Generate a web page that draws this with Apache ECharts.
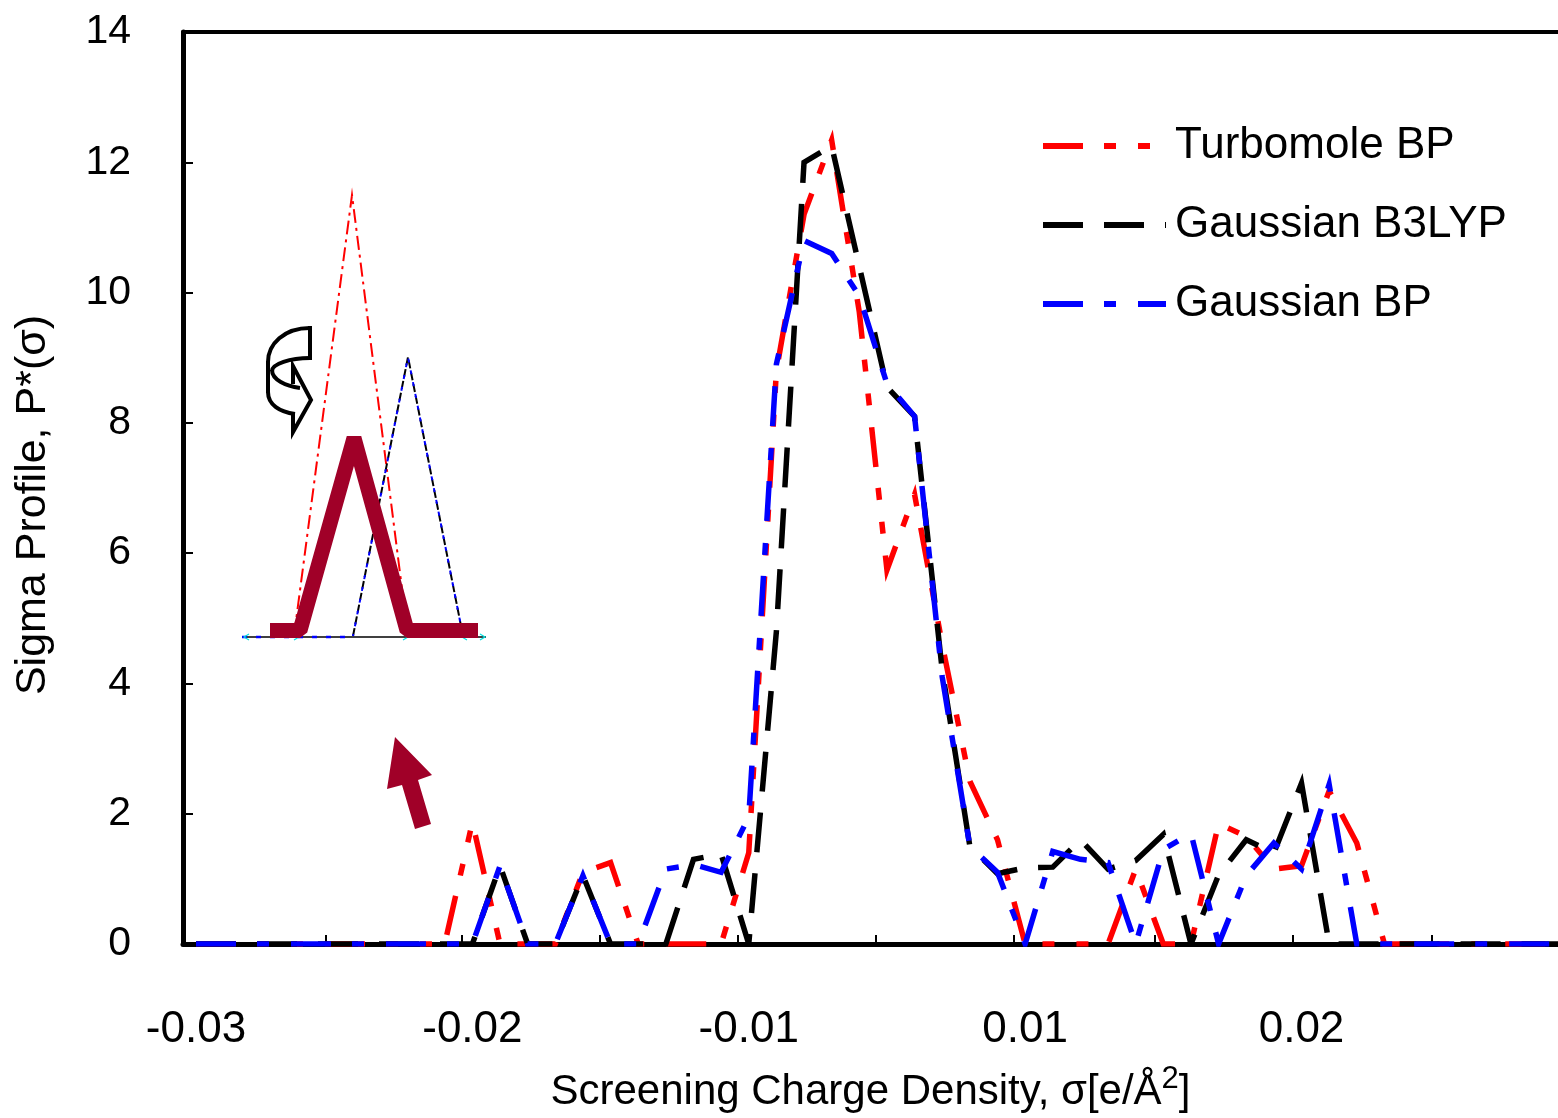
<!DOCTYPE html>
<html>
<head>
<meta charset="utf-8">
<script src="https://cdn.jsdelivr.net/npm/echarts@6/dist/echarts.min.js"></script>
<style>
html,body{margin:0;padding:0;background:#ffffff;}
#chart{width:1558px;height:1118px;}
</style>
</head>
<body>
<div id="chart"></div>
<script>
// ---- data ----
const sigma = [-0.025,-0.024,-0.023,-0.022,-0.021,-0.020,-0.019,-0.018,-0.017,-0.016,
  -0.015,-0.014,-0.013,-0.012,-0.011,-0.010,-0.009,-0.008,-0.007,-0.006,
  -0.005,-0.004,-0.003,-0.002,-0.001,0.000,0.001,0.002,0.003,0.004,
  0.005,0.006,0.007,0.008,0.009,0.010,0.011,0.012,0.013,0.014,
  0.015,0.016,0.017,0.018,0.019,0.020,0.021,0.022,0.023,0.024,0.025];

const turbomoleBP = [0,0,0,0,0,0,0,0,0,0,
  1.87,0,0,0,1.1,1.25,0,0,0,0,
  1.4,8.8,11.2,12.34,9.7,5.74,6.9,4.6,2.5,1.6,
  0,0,0,0,1.15,0,0,1.85,1.65,1.15,
  1.2,2.35,1.55,0,0,0,0,0,0,0,0];

const gaussianB3LYP = [0,0,0,0,0,0,0,0,0,0,
  0,1.2,0,0,1.05,0,0,0,1.3,1.38,
  0,4.8,12.0,12.25,10.4,8.55,8.1,4.2,1.5,1.08,
  1.17,1.18,1.6,1.15,1.28,1.68,0,1.06,1.6,1.4,
  2.47,0,0,0,0,0,0,0,0,0,0];

const gaussianBP = [0,0,0,0,0,0,0,0,0,0,
  0,1.2,0,0,1.05,0,0,1.15,1.22,1.1,
  1.95,8.9,10.8,10.6,9.95,8.6,8.1,4.1,1.5,1.1,
  0,1.42,1.3,1.25,0,1.45,1.7,0,1.05,1.55,
  1.15,2.45,0,0,0,0,0,0,0,0,0];

const seriesNames = ['Turbomole BP','Gaussian B3LYP','Gaussian BP'];

// axis tick labels as printed on the reference
const xLabelValues = [-0.025,-0.015,-0.005,0.005,0.015];
const xLabelTexts = ['-0.03','-0.02','-0.01','0.01','0.02'];
const xTickValues = [-0.0203,-0.0154,-0.0104,-0.0054,-0.0004,0.0046,0.0097,0.0147,0.0197];

// ---- styles ----
const FONT = 'Liberation Sans, Arial, Helvetica, sans-serif';
const colors = ['#ff0000','#000000','#0000ff'];
const dashes = [[40,21,12,22,12,22],[40,21],[40,21,12,22]];
const DARKRED = '#a00028';

function pairs(ys){ return sigma.map((s,i)=>[s, ys[i]]); }
const allValues = [turbomoleBP, gaussianB3LYP, gaussianBP];

const series = allValues.map((vals,i)=>({
  name: seriesNames[i],
  type: 'line',
  xAxisIndex: 0,
  yAxisIndex: 0,
  data: pairs(vals),
  symbol: 'none',
  clip: true,
  lineStyle: {color: colors[i], width: 5.5, type: dashes[i], cap: 'butt', join: 'miter'},
  itemStyle: {color: colors[i]},
  z: 3 + i
}));

const chart = echarts.init(document.getElementById('chart'), null, {renderer: 'canvas'});

const graphicEls = [
  // thin red dash-dot triangle
  {type:'polyline', z:50, shape:{points:[[294,636],[352,195],[408,636]]},
   style:{stroke:'#ff0000', lineWidth:2, fill:null, lineDash:[14,5,3,5]}},
  // thin black / blue dashed triangle
  {type:'polyline', z:50, shape:{points:[[353,636],[408,357],[463,636]]},
   style:{stroke:'#000000', lineWidth:2, fill:null, lineDash:[8,4]}},
  {type:'polyline', z:51, shape:{points:[[353,636],[408,357],[463,636]]},
   style:{stroke:'#0000ff', lineWidth:2, fill:null, lineDash:[4,8], lineDashOffset:2}},
  // inset baseline
  {type:'line', z:50, shape:{x1:242,y1:637,x2:486,y2:637}, style:{stroke:'#000', lineWidth:1.5}},
  {type:'line', z:51, shape:{x1:242,y1:637,x2:350,y2:637}, style:{stroke:'#0000ff', lineWidth:2.5, lineDash:[5,9]}},
  {type:'polyline', z:52, shape:{points:[[249,634],[244,637],[249,640]]}, style:{stroke:'#00e0e0', lineWidth:1.2, fill:null}},
  {type:'polyline', z:52, shape:{points:[[294,634],[299,637],[294,640]]}, style:{stroke:'#00e0e0', lineWidth:1.2, fill:null}},
  {type:'polyline', z:52, shape:{points:[[403,634],[408,637],[403,640]]}, style:{stroke:'#00e0e0', lineWidth:1.2, fill:null}},
  {type:'polyline', z:52, shape:{points:[[467,634],[462,637],[467,640]]}, style:{stroke:'#00e0e0', lineWidth:1.2, fill:null}},
  {type:'polyline', z:52, shape:{points:[[480,634],[485,637],[480,640]]}, style:{stroke:'#00e0e0', lineWidth:1.2, fill:null}},
  // thick dark-red lambda
  {type:'polyline', z:60, shape:{points:[[270,630.5],[300,630.5],[354,438],[407,630.5],[478,630.5]]},
   style:{stroke:DARKRED, lineWidth:15, fill:null, lineJoin:'bevel'}},
  // curved arrow glyph
  {type:'bezierCurve', z:60, shape:{x1:310,y1:328,cpx1:284,cpy1:328,cpx2:268,cpy2:344,x2:268,y2:362}, style:{stroke:'#000', lineWidth:4, fill:null}},
  {type:'line', z:60, shape:{x1:268,y1:361,x2:268,y2:393}, style:{stroke:'#000', lineWidth:4}},
  {type:'bezierCurve', z:60, shape:{x1:268,y1:392,cpx1:268,cpy1:405,cpx2:280,cpy2:412,x2:295,y2:414}, style:{stroke:'#000', lineWidth:4, fill:null}},
  {type:'polyline', z:60, shape:{points:[[293,413],[293,432],[311,400],[293,366],[293,384]]}, style:{stroke:'#000', lineWidth:4, fill:null, lineJoin:'miter'}},
  {type:'bezierCurve', z:60, shape:{x1:310,y1:358,cpx1:290,cpy1:358,cpx2:272,cpy2:364,x2:272,y2:371}, style:{stroke:'#000', lineWidth:4, fill:null}},
  {type:'bezierCurve', z:60, shape:{x1:272,y1:370,cpx1:272,cpy1:380,cpx2:286,cpy2:386,x2:300,y2:388}, style:{stroke:'#000', lineWidth:4, fill:null}},
  {type:'line', z:60, shape:{x1:310,y1:326,x2:310,y2:360}, style:{stroke:'#000', lineWidth:4}},
  // dark-red block arrow
  {type:'polygon', z:60, shape:{points:[[395,737],[432,775],[418,780],[431,824],[415,829],[402,785],[387,789]]},
   style:{fill:DARKRED, stroke:null}}
];

const option = {
  animation: false,
  backgroundColor: '#ffffff',
  textStyle: {fontFamily: FONT},
  grid: {left: 183, right: 0, top: 32, bottom: 174, containLabel: false, outerBoundsMode: 'none'},
  legend: {
    data: seriesNames,
    orient: 'vertical',
    left: 1040,
    top: 124,
    padding: 0,
    itemWidth: 123,
    itemHeight: 20,
    itemGap: 35,
    selectedMode: false,
    itemStyle: {opacity: 0, color: 'rgba(0,0,0,0)', borderWidth: 0},
    lineStyle: {width: 6},
    textStyle: {fontFamily: FONT, fontSize: 44, color: '#000', padding: [0,0,0,4]}
  },
  xAxis: [
    {
      type: 'value',
      min: -0.02547,
      max: 0.02428,
      position: 'bottom',
      axisLine: {show: true, onZero: false, lineStyle: {color: '#000', width: 5}},
      axisTick: {show: true, inside: true, length: 9, customValues: xTickValues, lineStyle: {color: '#000', width: 2}},
      splitLine: {show: false},
      axisLabel: {
        show: true, customValues: xLabelValues, margin: 64,
        fontFamily: FONT, fontSize: 44, color: '#000',
        formatter: function(v){
          let best = 0, d = Infinity;
          xLabelValues.forEach((x,i)=>{ const dd = Math.abs(x - v); if (dd < d){ d = dd; best = i; } });
          return xLabelTexts[best];
        }
      },
      name: 'Screening Charge Density, σ[e/Å{sup|2}]',
      nameLocation: 'middle',
      nameGap: 120,
      nameTextStyle: {
        fontFamily: FONT, fontSize: 42, color: '#000', lineHeight: 56,
        rich: {sup: {fontFamily: FONT, fontSize: 31, color: '#000', verticalAlign: 'top', lineHeight: 32}}
      }
    },
    {
      type: 'value',
      min: -0.02547,
      max: 0.02428,
      position: 'top',
      axisLine: {show: true, onZero: false, lineStyle: {color: '#000', width: 4}},
      axisTick: {show: false},
      axisLabel: {show: false},
      splitLine: {show: false}
    }
  ],
  yAxis: {
    type: 'value',
    min: 0,
    max: 14,
    interval: 2,
    axisLine: {show: true, onZero: false, lineStyle: {color: '#000', width: 5}},
    axisTick: {show: true, inside: true, length: 10, lineStyle: {color: '#000', width: 2}},
    splitLine: {show: false},
    axisLabel: {margin: 52, fontFamily: FONT, fontSize: 41, color: '#000'},
    name: 'Sigma Profile, P*(σ)',
    nameLocation: 'middle',
    nameGap: 128,
    nameRotate: 90,
    nameTextStyle: {fontFamily: FONT, fontSize: 43, color: '#000', padding: [0, 34, 0, 0]}
  },
  series: series,
  graphic: {elements: graphicEls}
};

chart.setOption(option);
</script>
</body>
</html>
